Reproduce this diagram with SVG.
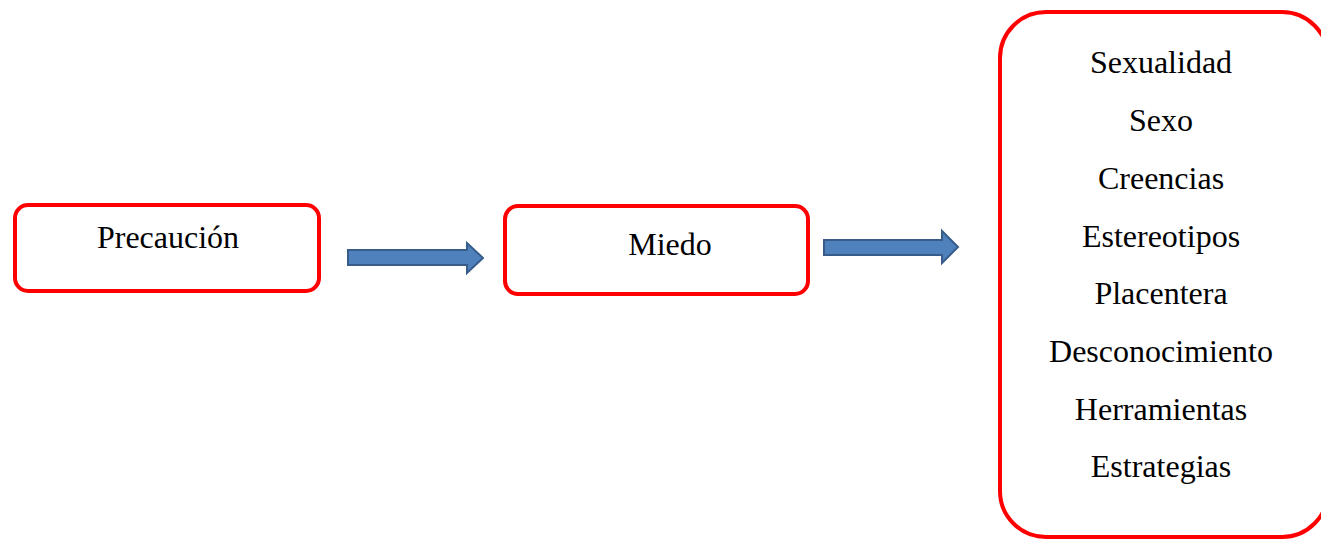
<svg xmlns="http://www.w3.org/2000/svg" width="1321" height="541" viewBox="0 0 1321 541">
<defs>
<style>
.box{fill:#fff;stroke:#ff0000;stroke-width:4}
.arr{fill:#4f81bd;stroke:#385d8a;stroke-width:2}
</style>
</defs>
<rect width="1321" height="541" fill="#fff"/>
<g id="precaucion">
<rect class="box" x="15" y="205" width="304" height="86" rx="13"/>
<text x="168" y="248" font-family="Liberation Serif" font-size="32" text-anchor="middle">Precaución</text>
</g>
<g id="miedo">
<rect class="box" x="505" y="206" width="303" height="88" rx="13"/>
<text x="670" y="255" font-family="Liberation Serif" font-size="32" text-anchor="middle">Miedo</text>
</g>
<g id="lista">
<rect class="box" x="1000" y="12" width="328" height="525" rx="46"/>
<text x="1161" y="73" font-family="Liberation Serif" font-size="32" text-anchor="middle">Sexualidad</text>
<text x="1161" y="131" font-family="Liberation Serif" font-size="32" text-anchor="middle">Sexo</text>
<text x="1161" y="189" font-family="Liberation Serif" font-size="32" text-anchor="middle">Creencias</text>
<text x="1161" y="247" font-family="Liberation Serif" font-size="32" text-anchor="middle">Estereotipos</text>
<text x="1161" y="304" font-family="Liberation Serif" font-size="32" text-anchor="middle">Placentera</text>
<text x="1161" y="362" font-family="Liberation Serif" font-size="32" text-anchor="middle">Desconocimiento</text>
<text x="1161" y="420" font-family="Liberation Serif" font-size="32" text-anchor="middle">Herramientas</text>
<text x="1161" y="477" font-family="Liberation Serif" font-size="32" text-anchor="middle">Estrategias</text>
</g>
<g id="connectors">
<path class="arr" d="M348,250 H467 V243 L483,258 L467,273 V265 H348 Z"/>
<path class="arr" d="M824,240 H942 V231 L958,247 L942,263 V255 H824 Z"/>
</g>
</svg>
